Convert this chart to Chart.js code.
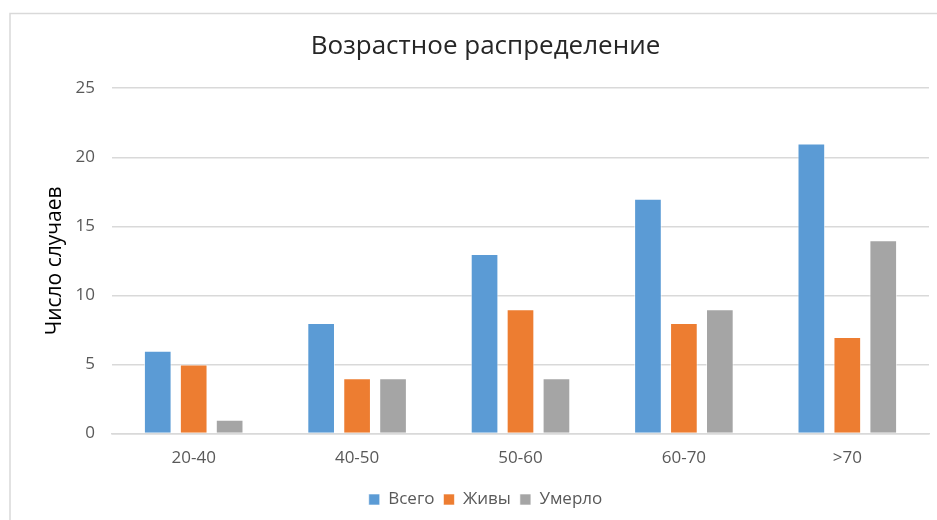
<!DOCTYPE html>
<html>
<head>
<meta charset="utf-8">
<script src="https://cdn.jsdelivr.net/npm/chart.js@4/dist/chart.umd.min.js"></script>
<style>
  html, body { margin: 0; padding: 0; background: #fff; }
  #wrap { width: 937px; height: 520px; position: relative; }
</style>
</head>
<body>
<div id="wrap"><canvas id="grafica"></canvas></div>
<script>
// Datos del gráfico
const categorias = ["20-40", "40-50", "50-60", "60-70", ">70"];
const vsego = [6, 8, 13, 17, 21];
const zhivy = [5, 4, 9, 8, 7];
const umerlo = [1, 4, 4, 9, 14];
const ticksY = [0, 5, 10, 15, 20, 25];

// Marco del gráfico (borde gris a la izquierda y arriba)
const marco = {
  id: "marco",
  beforeDraw(chart) {
    const ctx = chart.ctx;
    ctx.save();
    ctx.strokeStyle = "#d9d9d9";
    ctx.lineWidth = 1.5;
    ctx.beginPath();
    ctx.moveTo(10, 520);
    ctx.lineTo(10, 13.5);
    ctx.lineTo(937, 13.5);
    ctx.stroke();
    ctx.restore();
  }
};

function serie(label, data, color) {
  return {
    label: label,
    data: data,
    backgroundColor: color,
    borderColor: "rgba(255,255,255,0.6)",
    borderWidth: 1,
    categoryPercentage: 0.66,
    barPercentage: 0.77
  };
}

new Chart(document.getElementById("grafica"), {
  type: "bar",
  data: {
    labels: categorias,
    datasets: [
      serie("Всего", vsego, "#5b9bd5"),
      serie("Живы", zhivy, "#ed7d31"),
      serie("Умерло", umerlo, "#a5a5a5")
    ]
  },
  plugins: [marco],
  options: {
    responsive: true,
    maintainAspectRatio: false,
    animation: false,
    layout: { padding: { left: 42, right: 8, top: 31, bottom: 2 } },
    plugins: {
      title: {
        display: true,
        text: "Возрастное распределение",
        color: "#262626",
        font: { family: "Open Sans", size: 26, weight: "normal" },
        padding: { top: 0, bottom: 26 }
      },
      legend: {
        position: "bottom",
        labels: {
          color: "#595959",
          font: { family: "Open Sans", size: 17 },
          boxWidth: 11,
          boxHeight: 11,
          padding: 9
        }
      },
      tooltip: { enabled: false }
    },
    scales: {
      x: {
        grid: { display: false, drawTicks: false },
        border: { color: "#d9d9d9", width: 1.5 },
        ticks: { color: "#595959", font: { family: "Open Sans", size: 17 }, padding: 14 }
      },
      y: {
        min: 0,
        max: 25,
        afterBuildTicks: function (scale) {
          scale.ticks = ticksY.map(v => ({ value: v }));
        },
        afterFit: function (scale) { scale.width = 70; },
        grid: { color: "#d9d9d9", lineWidth: 1.5, drawTicks: false },
        border: { display: false },
        ticks: { color: "#595959", font: { family: "Open Sans", size: 17 }, padding: 17 },
        title: {
          display: true,
          text: "Число случаев",
          color: "#000",
          font: { family: "Open Sans", size: 21 },
          padding: 0
        }
      }
    }
  }
});
</script>
</body>
</html>
